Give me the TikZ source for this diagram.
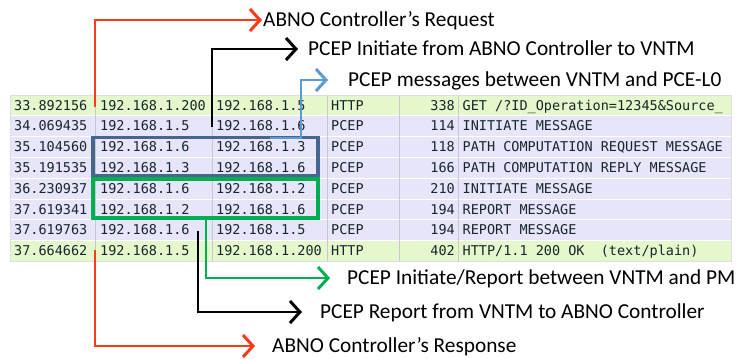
\documentclass[tikz,border=0pt]{standalone}
\usepackage{fontspec}
\setmainfont{Carlito}
\newfontfamily\monof{DejaVu Sans Mono}
\usetikzlibrary{arrows.meta}
\definecolor{httpg}{HTML}{E4F8CB}
\definecolor{pcepl}{HTML}{E6E5FA}
\definecolor{gridc}{HTML}{C8C8CE}
\definecolor{txtc}{HTML}{18252B}
\definecolor{redc}{HTML}{FA3A1A}
\definecolor{boxblue}{HTML}{44668F}
\definecolor{lblue}{HTML}{5B9BD5}
\definecolor{grn}{HTML}{00B050}
\tikzset{
  cell/.style={anchor=base west, inner sep=0pt, font=\monof\fontsize{13.5bp}{16bp}\selectfont, text=txtc},
  lenc/.style={cell, anchor=base east},
  lbl/.style={anchor=west, inner sep=0pt, text height=13.4bp, text depth=0pt, font=\fontsize{21.3bp}{25bp}\selectfont},
  conn/.style={line width=2bp, -{Straight Barb[length=10bp,width=22bp,line width=3bp]}},
  frame/.style={line width=3.5bp},
}
\newcommand\pktrow[9]{%
  \fill[#3] (10,#2) rectangle (731,#2+20.8);
  \node[cell] (t#1) at (14,#2+15) {#4};
  \node[cell] (s#1) at (100,#2+15) {#5};
  \node[cell] (d#1) at (216,#2+15) {#6};
  \node[cell] (p#1) at (331,#2+15) {#7};
  \node[lenc] (l#1) at (455,#2+15) {#8};
  \node[cell] (i#1) at (462.5,#2+15) {#9};
}
\begin{document}
\begin{tikzpicture}[x=1bp,y=-1bp]
\useasboundingbox (0,0) rectangle (742,358);
\fill[white] (0,0) rectangle (742,358);
% table
\pktrow{1}{95}{httpg}{33.892156}{192.168.1.200}{192.168.1.5}{HTTP}{338}{GET /?ID\_Operation=12345\&Source\_}
\pktrow{2}{115.8}{pcepl}{34.069435}{192.168.1.5}{192.168.1.6}{PCEP}{114}{INITIATE MESSAGE}
\pktrow{3}{136.6}{pcepl}{35.104560}{192.168.1.6}{192.168.1.3}{PCEP}{118}{PATH COMPUTATION REQUEST MESSAGE}
\pktrow{4}{157.4}{pcepl}{35.191535}{192.168.1.3}{192.168.1.6}{PCEP}{166}{PATH COMPUTATION REPLY MESSAGE}
\pktrow{5}{178.2}{pcepl}{36.230937}{192.168.1.6}{192.168.1.2}{PCEP}{210}{INITIATE MESSAGE}
\pktrow{6}{199}{pcepl}{37.619341}{192.168.1.2}{192.168.1.6}{PCEP}{194}{REPORT MESSAGE}
\pktrow{7}{219.8}{pcepl}{37.619763}{192.168.1.6}{192.168.1.5}{PCEP}{194}{REPORT MESSAGE}
\pktrow{8}{240.6}{httpg}{37.664662}{192.168.1.5}{192.168.1.200}{HTTP}{402}{HTTP/1.1 200 OK\ \ (text/plain)}
\foreach \yy in {115.8,136.6,157.4,178.2,199,219.8,240.6}
  \draw[white, line width=1bp] (10,\yy) -- (731,\yy);
\foreach \xx in {95,212,327,399,458}
  \draw[gridc, line width=0.8bp] (\xx,95) -- (\xx,261.4);
\draw[gridc!60, line width=0.8bp] (10,95) rectangle (731,261.4);
% highlight frames
\draw[boxblue, frame] (93,137.5) rectangle (318,175.5);
\draw[grn, frame] (93,179) rectangle (318,218);
% labels
\node[lbl] (req) at (263,20) {ABNO Controller’s Request};
\node[lbl] (ini) at (308,49) {PCEP Initiate from ABNO Controller to VNTM};
\node[lbl] (msg) at (348,80) {PCEP messages between VNTM and PCE-L0};
\node[lbl] (irp) at (347,278) {PCEP Initiate/Report between VNTM and PM};
\node[lbl] (rep) at (320,312) {PCEP Report from VNTM to ABNO Controller};
\node[lbl] (res) at (272,346) {ABNO Controller’s Response};
% connector start points
\coordinate (reqs) at (95,107);
\coordinate (inis) at (212,127);
\coordinate (msgs) at (270,137.5);
\coordinate (msgb) at (301,137.5);
\coordinate (irps) at (206,218);
\coordinate (reps) at (198,231);
\coordinate (ress) at (95,250);
% connectors
\draw[conn, redc] (reqs) |- ([xshift=-1bp]req.west);
\draw[conn, black] (inis) |- ([xshift=-10bp]ini.west);
\draw[conn, lblue] (msgs) -- (msgb) |- ([xshift=-20bp]msg.west);
\draw[conn, grn] (irps) |- ([xshift=-17bp]irp.west);
\draw[conn, black] (reps) |- ([xshift=-18bp]rep.west);
\draw[conn, redc] (ress) |- ([xshift=-17bp]res.west);
\end{tikzpicture}
\end{document}
